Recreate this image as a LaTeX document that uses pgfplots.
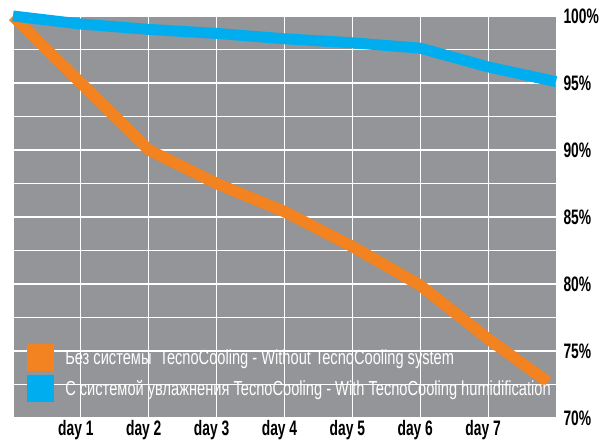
\documentclass[border=0pt]{standalone}
\usepackage{fontspec}
\setmainfont{Liberation Sans}[FakeStretch=0.72]
\newfontfamily\tickfont{Liberation Sans}[FakeStretch=0.66]
\usepackage{pgfplots}
\pgfplotsset{compat=1.18}
\definecolor{bggrey}{RGB}{147,149,152}
\definecolor{tcorange}{RGB}{243,130,32}
\definecolor{tcblue}{RGB}{0,174,239}
\begin{document}
\begin{tikzpicture}
\useasboundingbox (-13bp,-22bp) rectangle (587bp,418bp);
\begin{axis}[
  scale only axis,
  width=543bp, height=402bp,
  xmin=0, xmax=8, ymin=70, ymax=100,
  clip=false,
  axis background/.style={fill=bggrey},
  axis line style={white, line width=1pt},
  xtick={1,...,7},
  xticklabels={day 1,day 2,day 3,day 4,day 5,day 6,day 7},
  ytick={70,75,...,100},
  yticklabels={70\%,75\%,80\%,85\%,90\%,95\%,100\%},
  minor ytick={72.5,77.5,...,97.5},
  grid=both,
  major grid style={white, line width=1.2pt},
  minor grid style={white, line width=1.2pt},
  major tick length=0pt, minor tick length=0pt,
  yticklabel pos=right,
  tick label style={font=\tickfont\fontsize{21}{22}\selectfont\bfseries, black},
  xticklabel style={yshift=1bp, xshift=-5bp},
  yticklabel style={anchor=west, xshift=4bp},
  legend style={at={(rel axis cs:0.026,0.04)}, anchor=south west, draw=none, fill=none,
    text=white, font=\fontsize{20.4}{21}\selectfont, row sep=4bp, inner sep=0pt,
    /tikz/every odd column/.append style={column sep=9bp}},
  legend cell align=left,
  legend image code/.code={\path[#1, draw=none, fill] (0bp,-13bp) rectangle (27bp,14bp);},
]
\addplot[color=tcorange, line width=11.5pt, line cap=butt, line join=round] coordinates {
  (0,100) (1,95) (2,90) (3,87.5) (4,85.4) (5,82.8) (6,79.9) (7,75.9) (7.88,72.7)};
\addlegendentry{Без системы \ TecnoCooling - Without TecnoCooling system}
\addplot[color=tcblue, line width=11pt, line cap=butt, line join=round] coordinates {
  (0,100) (1,99.4) (2,99.0) (3,98.7) (4,98.3) (5,98.0) (6,97.6) (7,96.2) (8,95.1)};
\addlegendentry{С системой увлажнения TecnoCooling - With TecnoCooling humidification}
\end{axis}
\end{tikzpicture}
\end{document}
